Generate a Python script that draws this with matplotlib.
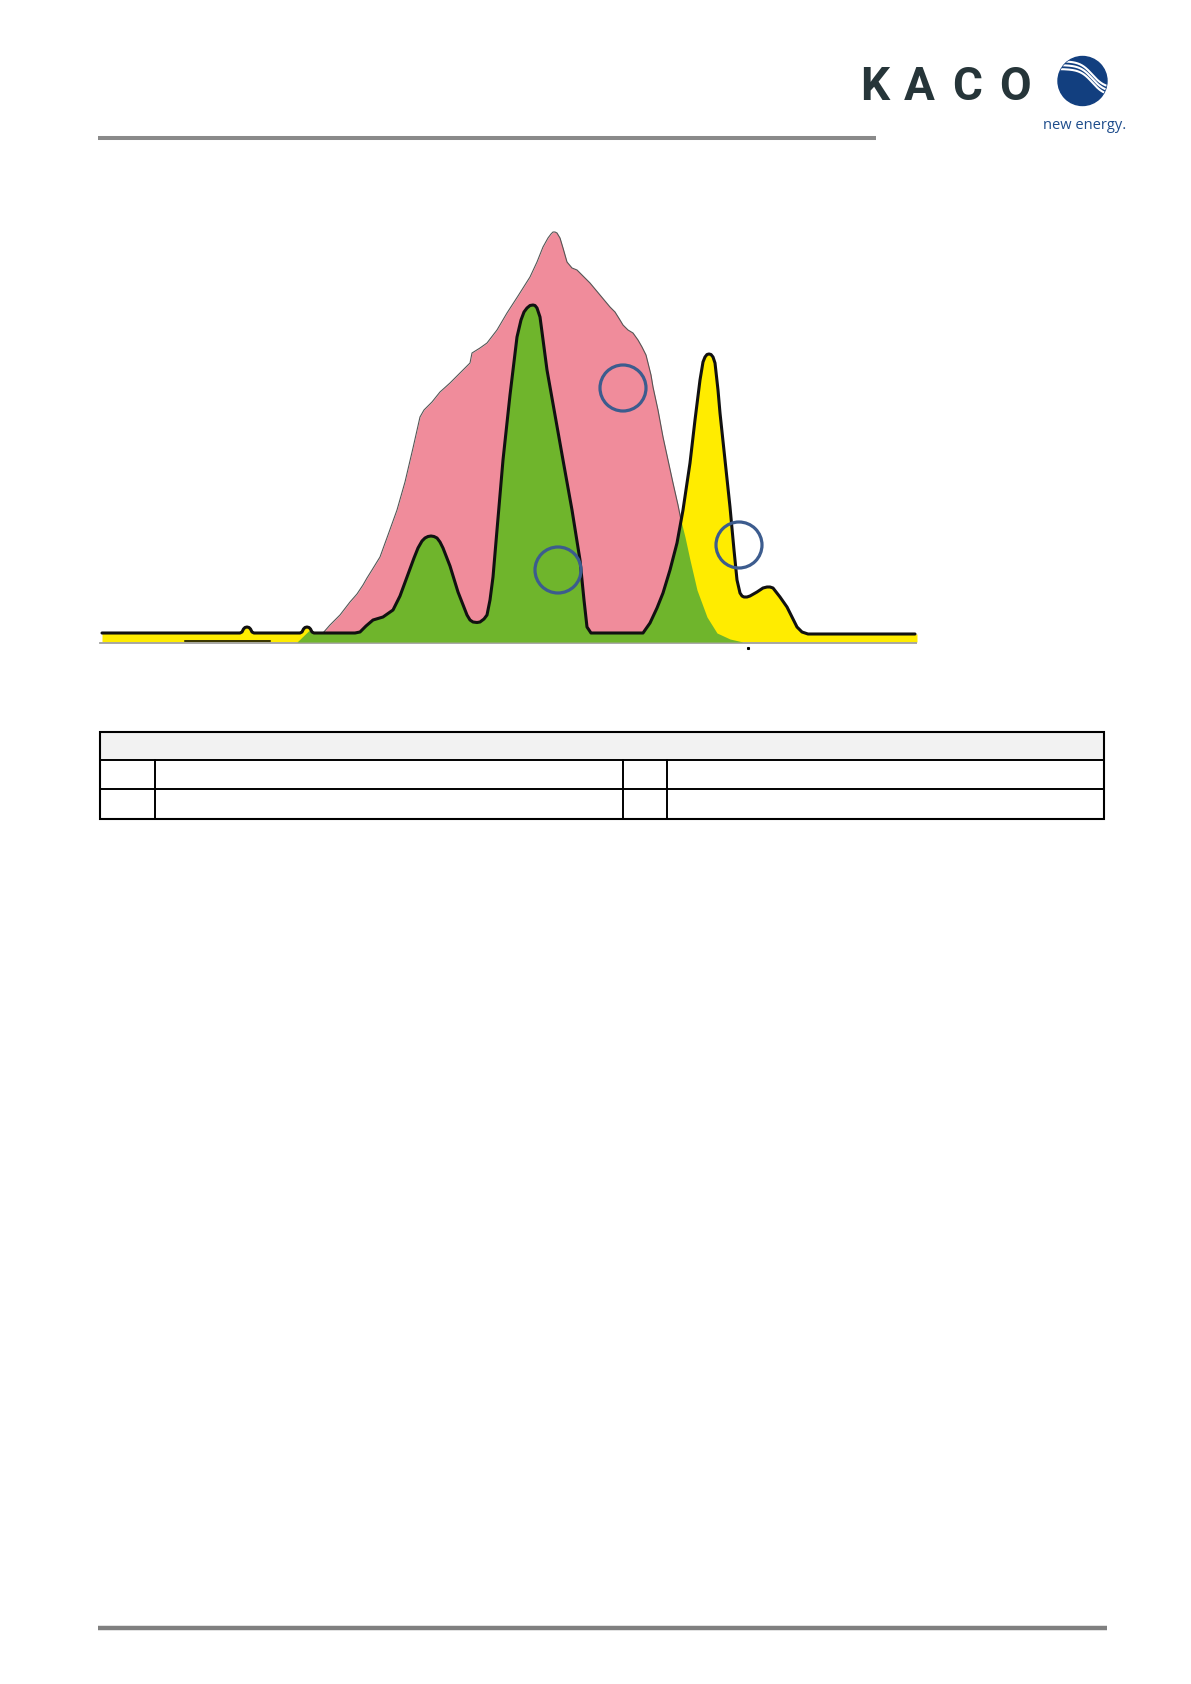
import matplotlib
matplotlib.use("Agg")
import matplotlib.pyplot as plt
import numpy as np
from matplotlib.patches import Circle, Rectangle
from matplotlib import font_manager

# colours
PINK = '#F08C9B'
GREEN = '#6FB52C'
YELLOW = '#FFEC00'
RING = '#3C5C8E'
RULE = '#8A8A8A'
KACO_DARK = '#263539'
KACO_BLUE = '#123F7F'

# ---- curve data (x = position along the baseline, y = height above it) ----
# black outline curve (top of green + yellow areas)
curve_x = [9, 147, 149, 150.5, 152, 154, 156, 157.5, 159, 161,
           207, 209, 210.5, 212, 214, 216, 217.5, 219, 221,
           262, 267, 273, 280,
           290, 300, 307, 314, 321, 325, 329, 332, 335, 338, 341, 344, 347, 350, 357, 365, 374, 377, 380, 384, 387,
           391, 394, 397, 400, 404, 410, 417, 424, 428, 431, 434, 437, 440, 442, 444, 447, 449, 454, 462, 470,
           479, 487, 491, 494, 498, 550, 557, 564, 570, 577, 584, 590, 597, 602, 607,
           610, 612, 614, 616, 618, 620, 622, 625, 627, 632, 637, 641, 644, 647, 649, 651, 654, 657, 664,
           670, 674, 677, 680, 687, 694, 699, 704, 709, 715, 822]
curve_y = [9, 9, 10, 13, 14.5, 15, 14.5, 13, 10, 9,
           9, 10, 13, 14.5, 15, 14.5, 13, 10, 9,
           9, 10, 16, 22,
           25, 32, 46, 65, 84, 94, 101, 104, 105.5, 106, 105.5, 104, 100, 94, 76, 50, 27, 22, 20, 19.5, 20,
           23, 27, 42, 65, 112, 182, 247, 305, 322, 330, 334, 336.5, 337, 336.5, 334, 325, 310, 272, 227, 182,
           132, 82, 42, 15, 9, 9, 19, 34, 49, 72, 99, 132, 179, 222, 262,
           280, 285, 287.5, 288, 287.5, 285, 279, 252, 229, 182, 135, 92, 62, 49, 46, 45, 45, 46, 50,
           54, 55, 55, 54, 45, 35, 25, 15, 10, 8, 8]

# pink background area (upper outline)
pink_x = [230, 237, 247, 257, 264, 270, 274, 279, 287, 295, 304, 312, 320, 327, 331,
          334, 339, 347, 357, 370, 377, 379, 387, 394, 404, 414, 425, 437, 444, 450,
          455, 458, 460, 462, 464, 467, 470, 474, 479, 484, 490, 497, 507, 517, 522, 527, 530,
          535, 540, 545, 549, 553, 555, 558, 560, 565, 570, 575, 580, 585, 588]
pink_y = [9, 17, 27, 40, 48, 57, 64, 72, 85, 107, 132, 160, 194, 225, 232,
          235, 240, 250, 259, 272, 279, 289, 294, 299, 312, 329, 346, 365, 380, 395,
          404, 408, 410, 410, 409, 404, 394, 380, 374, 372, 366, 359, 347, 335, 330, 322, 317,
          312, 309, 302, 295, 287, 279, 267, 255, 232, 205, 182, 159, 137, 122]

# green area: starts on the left taper, follows the black curve, then its own lobe
green_start_x = 204
green_join_x = 217
green_end_x = 588
green_lobe_x = [588, 592, 597, 604, 614, 624, 637, 650]
green_lobe_y = [121, 105, 82, 52, 25, 9, 3, 0]

# small black segment at the baseline and the stray dot
base_seg_x = [92, 177]
base_seg_y = [1, 1]
dot_x, dot_y = [655], [-6]

# marker rings
ring_x = [530, 465, 646]
ring_y = [254, 72, 97]
ring_r = 23

# ---- figure ----
fig = plt.figure(figsize=(11.91, 16.84), dpi=100, facecolor='white')

page = fig.add_axes([0, 0, 1, 1])
page.set_xlim(0, 1191)
page.set_ylim(1684, 0)
page.axis('off')

# header / footer rules
page.plot([98, 876], [137.5, 137.5], color=RULE, lw=2.9, solid_capstyle='butt')
page.plot([98, 1107], [1628, 1628], color='#808080', lw=3.2, solid_capstyle='butt')

# KACO logo text
available = {f.name for f in font_manager.fontManager.ttflist}
logo_font = 'Liberation Sans Narrow' if 'Liberation Sans Narrow' in available else 'Roboto'
for letter, cx in zip(['K', 'A', 'C', 'O'], [875, 919, 967.5, 1015]):
    page.text(cx, 100, letter, ha='center', va='baseline', fontsize=33,
              fontweight='bold', color=KACO_DARK, family=[logo_font, 'DejaVu Sans'])

# logo disc with white waves
disc_cx, disc_cy, disc_r = 1082.5, 81, 24.5
disc = Circle((disc_cx, disc_cy), disc_r, color=KACO_BLUE, zorder=2)
page.add_patch(disc)
u = np.linspace(-1.1, 1.1, 200)
for off in [-0.16, 0.0, 0.16]:
    v = 0.1 - 0.55 * np.tanh(2 * (u - 0.4)) + off
    ln, = page.plot(disc_cx + disc_r * u, disc_cy - disc_r * v, color='white',
                    lw=1.5, zorder=3)
    ln.set_clip_path(disc)
page.text(1043, 129, 'new energy.', ha='left', va='baseline', fontsize=10.5,
          color='#1E4D8C', family=['Open Sans', 'DejaVu Sans'])

# table (empty legend table)
tbl_l, tbl_r = 99.5, 1104
tbl_t, tbl_h, tbl_r1, tbl_b = 731.5, 760, 789, 819
page.add_patch(Rectangle((tbl_l, tbl_t), tbl_r - tbl_l, tbl_h - tbl_t,
                         facecolor='#F2F2F2', edgecolor='none'))
page.add_patch(Rectangle((tbl_l, tbl_t), tbl_r - tbl_l, tbl_b - tbl_t,
                         facecolor='none', edgecolor='black', lw=1.5))
for yy in [tbl_h, tbl_r1]:
    page.plot([tbl_l, tbl_r], [yy, yy], color='black', lw=1.4)
for xx in [155, 623, 667]:
    page.plot([xx, xx], [tbl_h, tbl_b], color='black', lw=1.4)

# ---- chart ----
W, H = 1191, 1684
ax = fig.add_axes([93 / W, 1 - 652 / H, 824 / W, 432 / H])
ax.set_xlim(0, 824)
ax.set_ylim(-10, 422)
ax.axis('off')
ax.patch.set_alpha(0)

cx = np.array(curve_x, dtype=float)
cy = np.array(curve_y, dtype=float)

# pink area
ax.fill_between(pink_x, 0, pink_y, color=PINK, lw=0, zorder=1)
ax.plot(pink_x, pink_y, color='#555555', lw=0.8, zorder=1.5)

# yellow under the whole black curve
ax.fill_between(list(cx) + [824], 0, list(cy) + [8], color=YELLOW, lw=0, zorder=2)

# green area
mask = (cx >= green_join_x) & (cx < green_end_x)
gx = [green_start_x] + list(cx[mask]) + green_lobe_x
gy = [0] + list(cy[mask]) + green_lobe_y
ax.fill_between(gx, 0, gy, color=GREEN, lw=0, zorder=3)

# baseline
ax.plot([7, 824], [-0.8, -0.8], color='#A0A0A0', lw=1.3, zorder=2.5)
ax.plot(base_seg_x, base_seg_y, color='black', lw=1.1, zorder=4)
ax.plot(dot_x, dot_y, 's', color='black', ms=1.2, zorder=4)

# black outline
ax.plot(cx, cy, color='#111111', lw=2.2, solid_joinstyle='round',
        solid_capstyle='round', zorder=5)

# rings
for rx, ry in zip(ring_x, ring_y):
    ax.add_patch(Circle((rx, ry), ring_r, facecolor='none', edgecolor=RING,
                        lw=2.3, zorder=6))

fig.savefig('out.png', dpi=100, facecolor='white')
plt.close(fig)
